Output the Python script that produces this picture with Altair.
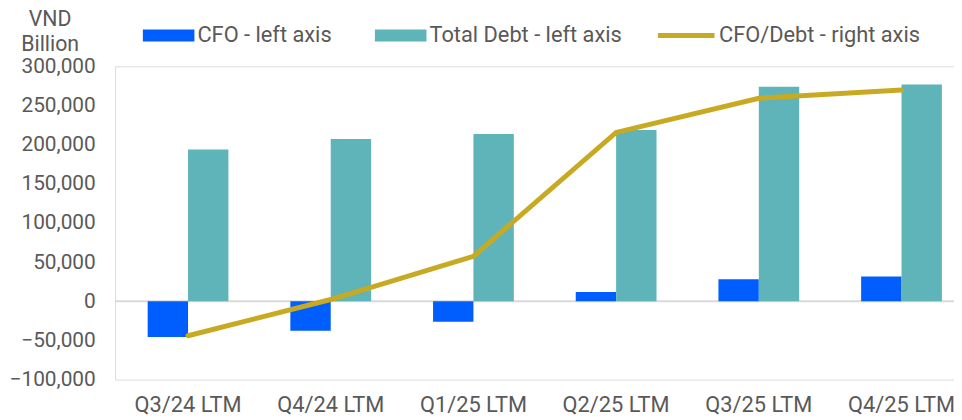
import altair as alt
import pandas as pd

categories = ["Q3/24 LTM", "Q4/24 LTM", "Q1/25 LTM", "Q2/25 LTM", "Q3/25 LTM", "Q4/25 LTM"]
cfo = [-45600, -37600, -26200, 11800, 28200, 31600]
total_debt = [193700, 207200, 213500, 218600, 273800, 276800]
cfo_debt = [-0.237, -0.185, -0.123, 0.055, 0.104, 0.116]

series_bar = ["CFO - left axis", "Total Debt - left axis"]
series_line = ["CFO/Debt - right axis"]
left_ticks = [-100000, -50000, 0, 50000, 100000, 150000, 200000, 250000, 300000]

rows = []
for c, v in zip(categories, cfo):
    rows.append({"cat": c, "series": series_bar[0], "value": v})
for c, v in zip(categories, total_debt):
    rows.append({"cat": c, "series": series_bar[1], "value": v})
bars_df = pd.DataFrame(rows)
line_df = pd.DataFrame({"cat": categories, "ratio": cfo_debt, "series": series_line[0]})
zero_df = pd.DataFrame({"value": [0]})

FONT = "Roboto"
GRAY = "#595959"
FS = 22

xscale = alt.Scale(domain=categories, paddingInner=0.434, paddingOuter=0.1565, align=0.729, round=False)
xaxis = alt.Axis(title=None, domain=False, ticks=False, tickSize=0, labelPadding=15, labelAngle=0,
                 labelFontSize=FS, labelColor=GRAY, labelFont=FONT, grid=False, labelLimit=300)

yscale = alt.Scale(domain=[-100000, 300000], nice=False, zero=False)
yaxis = alt.Axis(title=["VND", "Billion"], values=left_ticks, format=",d", domain=False, ticks=False,
                 tickSize=0, grid=False, labelPadding=20, labelFontSize=21, labelColor=GRAY,
                 labelFont=FONT, titleAngle=0, titleAlign="center", titleBaseline="alphabetic",
                 titleX=-66, titleY=-41, titleFontSize=21.5, titleFontWeight="normal",
                 titleColor=GRAY, titleFont=FONT, titleLineHeight=25)

rect_path = "M-1,-0.23L1,-0.23L1,0.23L-1,0.23Z"

bars = alt.Chart(bars_df).mark_bar().encode(
    x=alt.X("cat:N", scale=xscale, axis=xaxis, sort=categories),
    xOffset=alt.XOffset("series:N", sort=series_bar, scale=alt.Scale(paddingInner=0, paddingOuter=0)),
    y=alt.Y("value:Q", scale=yscale, axis=yaxis),
    color=alt.Color("series:N", sort=series_bar,
                    scale=alt.Scale(domain=series_bar, range=["#005EFF", "#5FB4BA"]),
                    legend=alt.Legend(orient="none", legendX=28, legendY=-57, direction="horizontal",
                                      title=None, symbolType=rect_path, symbolSize=2704,
                                      symbolStrokeWidth=0, labelFontSize=FS, labelColor=GRAY,
                                      labelFont=FONT, labelOffset=3, columnPadding=43, labelLimit=400)),
)

zero = alt.Chart(zero_df).mark_rule(color="#D9D9D9", strokeWidth=2).encode(
    y=alt.Y("value:Q", scale=yscale, axis=yaxis)
)

line = alt.Chart(line_df).mark_line(strokeWidth=5, strokeCap="round").encode(
    x=alt.X("cat:N", scale=xscale, axis=xaxis, sort=categories),
    y=alt.Y("ratio:Q", scale=alt.Scale(domain=[-0.30, 0.15], nice=False, zero=False), axis=None),
    stroke=alt.Stroke("series:N", scale=alt.Scale(domain=series_line, range=["#C8AA22"]),
                      legend=alt.Legend(orient="none", legendX=545, legendY=-62, direction="horizontal",
                                        title=None, symbolType="stroke", symbolSize=3249,
                                        symbolStrokeWidth=5, labelFontSize=FS, labelColor=GRAY,
                                        labelFont=FONT, labelOffset=2, labelLimit=400)),
)

left = alt.layer(zero, bars)
chart = alt.layer(left, line).resolve_scale(y="independent").properties(
    width=846, height=316,
    autosize=alt.AutoSizeParams(type="none"),
    padding={"left": 108, "top": 57, "right": 0, "bottom": 40},
).configure_view(strokeWidth=0, stroke="transparent").configure(font=FONT)

chart.save("out.html", embed_options={"renderer": "svg", "actions": False})
